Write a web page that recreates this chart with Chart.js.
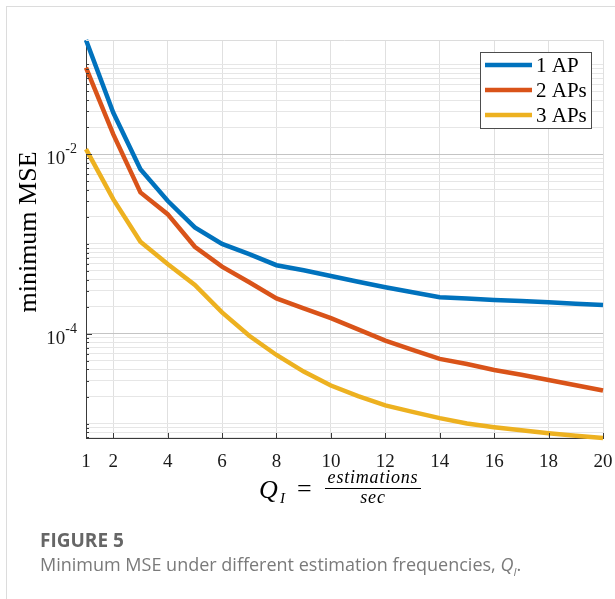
<!DOCTYPE html>
<html>
<head>
<meta charset="utf-8">
<script src="https://cdn.jsdelivr.net/npm/chart.js@4.4.0/dist/chart.umd.min.js"></script>
<style>
    html, body { margin: 0; padding: 0; background: #fff; }
    body { width: 615px; height: 599px; position: relative; overflow: hidden; }
    #frame { position: absolute; left: 6px; top: 6px; width: 620px; height: 600px;
             border-left: 1px solid #dcdcdc; border-top: 1px solid #dcdcdc; }
    #mseChart { position: absolute; left: 0; top: 0; }
    .caption { position: absolute; left: 40px; font-family: "Open Sans", sans-serif; white-space: nowrap; }
    #fig-no { top: 527px; font-size: 19px; font-weight: 700; color: #666; }
    #fig-text { top: 552px; font-size: 18px; color: #7a7a7a; }
</style>
</head>
<body>
<div id="frame"></div>
<canvas id="mseChart" width="615" height="599"></canvas>
<div class="caption" id="fig-no">FIGURE 5</div>
<div class="caption" id="fig-text">Minimum MSE under different estimation frequencies, <i>Q<sub style="font-size:11px">I</sub></i>.</div>

<script>
// --- Data ---
const qValues = [1, 2, 3, 4, 5, 6, 7, 8, 9, 10, 11, 12, 13, 14, 15, 16, 17, 18, 19, 20];
const seriesLabels = ['1 AP', '2 APs', '3 APs'];
const mse1AP = [0.187, 0.0291, 6.8e-3, 3.03e-3, 1.53e-3, 1.0e-3, 7.7e-4, 5.8e-4, 5.1e-4, 4.4e-4,
                3.8e-4, 3.3e-4, 2.9e-4, 2.55e-4, 2.47e-4, 2.38e-4, 2.31e-4, 2.24e-4, 2.16e-4, 2.09e-4];
const mse2AP = [0.092, 0.0167, 3.75e-3, 2.15e-3, 9.3e-4, 5.6e-4, 3.74e-4, 2.48e-4, 1.92e-4, 1.49e-4,
                1.12e-4, 8.4e-5, 6.6e-5, 5.25e-5, 4.6e-5, 3.95e-5, 3.5e-5, 3.06e-5, 2.67e-5, 2.33e-5];
const mse3AP = [0.0114, 3.16e-3, 1.06e-3, 5.97e-4, 3.49e-4, 1.73e-4, 9.5e-5, 5.8e-5, 3.79e-5, 2.65e-5,
                2.02e-5, 1.59e-5, 1.35e-5, 1.15e-5, 1.0e-5, 9.1e-6, 8.4e-6, 7.8e-6, 7.3e-6, 6.9e-6];
const xTickValues = [1, 2, 4, 6, 8, 10, 12, 14, 16, 18, 20];
const yLabelValues = [1e-4, 1e-2];

const seriesColors = ['#0072BD', '#D95319', '#EDB120'];
const serif = '"Liberation Serif", "Times New Roman", serif';

const allValues = [...mse1AP, ...mse2AP, ...mse3AP];
const yMin = Math.min(...allValues);
const yMax = Math.max(...allValues);

// log grid: 1..9 x each decade inside the range
const yGridValues = [];
for (let d = -7; d <= 0; d++) {
    for (let m = 1; m <= 9; m++) {
        const v = m * Math.pow(10, d);
        if (v >= yMin && v <= yMax) yGridValues.push(v);
    }
}
const isLabelled = v => yLabelValues.some(l => Math.abs(v - l) / l < 1e-6);

const toPoints = arr => arr.map((v, i) => ({ x: qValues[i], y: v }));

const decorPlugin = {
    id: 'decor',
    afterDraw(chart) {
        const { ctx, chartArea: a, scales: { x, y } } = chart;
        ctx.save();

        // faint top edge
        ctx.strokeStyle = '#dcdcdc';
        ctx.lineWidth = 1;
        ctx.beginPath();
        ctx.moveTo(a.left, a.top + 0.5);
        ctx.lineTo(a.right, a.top + 0.5);
        ctx.stroke();

        // inward ticks
        ctx.strokeStyle = '#3a3a3a';
        y.ticks.forEach(t => {
            const py = Math.round(y.getPixelForValue(t.value)) + 0.5;
            const len = isLabelled(t.value) ? 6 : 3;
            ctx.beginPath();
            ctx.moveTo(a.left, py);
            ctx.lineTo(a.left + len, py);
            ctx.stroke();
        });
        x.ticks.forEach(t => {
            const px = Math.round(x.getPixelForValue(t.value)) + 0.5;
            ctx.beginPath();
            ctx.moveTo(px, a.bottom);
            ctx.lineTo(px, a.bottom - 5);
            ctx.stroke();
        });

        // x tick labels
        ctx.fillStyle = '#1a1a1a';
        ctx.font = '19px ' + serif;
        ctx.textAlign = 'center';
        ctx.textBaseline = 'alphabetic';
        xTickValues.forEach(v => {
            ctx.fillText(String(v), x.getPixelForValue(v), 467);
        });

        // y tick labels 10^k
        yLabelValues.forEach(v => {
            const py = y.getPixelForValue(v);
            const exp = String(Math.round(Math.log10(v)));
            ctx.font = '14px ' + serif;
            const ew = ctx.measureText(exp).width;
            ctx.textAlign = 'right';
            ctx.fillText(exp, a.left - 9, py - 1);
            ctx.font = '19px ' + serif;
            ctx.fillText('10', a.left - 9 - ew, py + 10);
        });

        // y axis title
        ctx.save();
        ctx.translate(36, 232);
        ctx.rotate(-Math.PI / 2);
        ctx.font = '26px ' + serif;
        ctx.textAlign = 'center';
        ctx.fillStyle = '#000';
        ctx.fillText('minimum MSE', 0, 0);
        ctx.restore();

        // x axis title: Q_I = estimations / sec
        ctx.fillStyle = '#000';
        ctx.textAlign = 'left';
        ctx.font = 'italic 26px ' + serif;
        ctx.fillText('Q', 259, 498);
        ctx.font = 'italic 15px ' + serif;
        ctx.fillText('I', 280, 503);
        ctx.font = '26px ' + serif;
        ctx.fillText('=', 297, 497);
        ctx.font = 'italic 18px ' + serif;
        ctx.letterSpacing = '0.8px';
        ctx.textAlign = 'center';
        ctx.fillText('estimations', 373, 483);
        ctx.fillText('sec', 373, 503);
        ctx.letterSpacing = '0px';
        ctx.strokeStyle = '#000';
        ctx.lineWidth = 1;
        ctx.beginPath();
        ctx.moveTo(325, 488.5);
        ctx.lineTo(421, 488.5);
        ctx.stroke();

        // legend box
        const lx = 480, ly = 52, lw = 111, lh = 76;
        ctx.fillStyle = '#fff';
        ctx.fillRect(lx, ly, lw, lh);
        ctx.strokeStyle = '#4d4d4d';
        ctx.strokeRect(lx + 0.5, ly + 0.5, lw, lh);
        chart.data.datasets.forEach((ds, i) => {
            const rowY = ly + 13 + i * 25;
            ctx.strokeStyle = ds.borderColor;
            ctx.lineWidth = 4.5;
            ctx.beginPath();
            ctx.moveTo(lx + 5, rowY);
            ctx.lineTo(lx + 52, rowY);
            ctx.stroke();
            ctx.fillStyle = '#000';
            ctx.font = '21px ' + serif;
            ctx.textAlign = 'left';
            ctx.textBaseline = 'middle';
            ctx.fillText(ds.label, lx + 56, rowY + 1);
        });

        ctx.restore();
    }
};

new Chart(document.getElementById('mseChart'), {
    type: 'line',
    data: {
        datasets: [mse1AP, mse2AP, mse3AP].map((arr, i) => ({
            label: seriesLabels[i],
            data: toPoints(arr),
            borderColor: seriesColors[i],
            backgroundColor: seriesColors[i],
            borderWidth: 4.5,
            pointRadius: 0,
            tension: 0,
            clip: 4
        }))
    },
    options: {
        responsive: false,
        animation: false,
        layout: { padding: { left: 86, top: 40, right: 12, bottom: 161 } },
        plugins: { legend: { display: false }, tooltip: { enabled: false } },
        scales: {
            x: {
                type: 'linear',
                min: 1,
                max: 20,
                afterBuildTicks: scale => { scale.ticks = xTickValues.map(v => ({ value: v })); },
                ticks: { display: false },
                grid: { color: '#e0e0e0', drawTicks: false },
                border: { color: '#3a3a3a', width: 1 }
            },
            y: {
                type: 'logarithmic',
                min: yMin,
                max: yMax,
                afterBuildTicks: scale => { scale.ticks = yGridValues.map(v => ({ value: v })); },
                ticks: { display: false },
                grid: {
                    color: c => (c.tick && isLabelled(c.tick.value)) ? '#c4c4c4' : '#e6e6e6',
                    drawTicks: false
                },
                border: { color: '#3a3a3a', width: 1 }
            }
        }
    },
    plugins: [decorPlugin]
});
</script>
</body>
</html>
